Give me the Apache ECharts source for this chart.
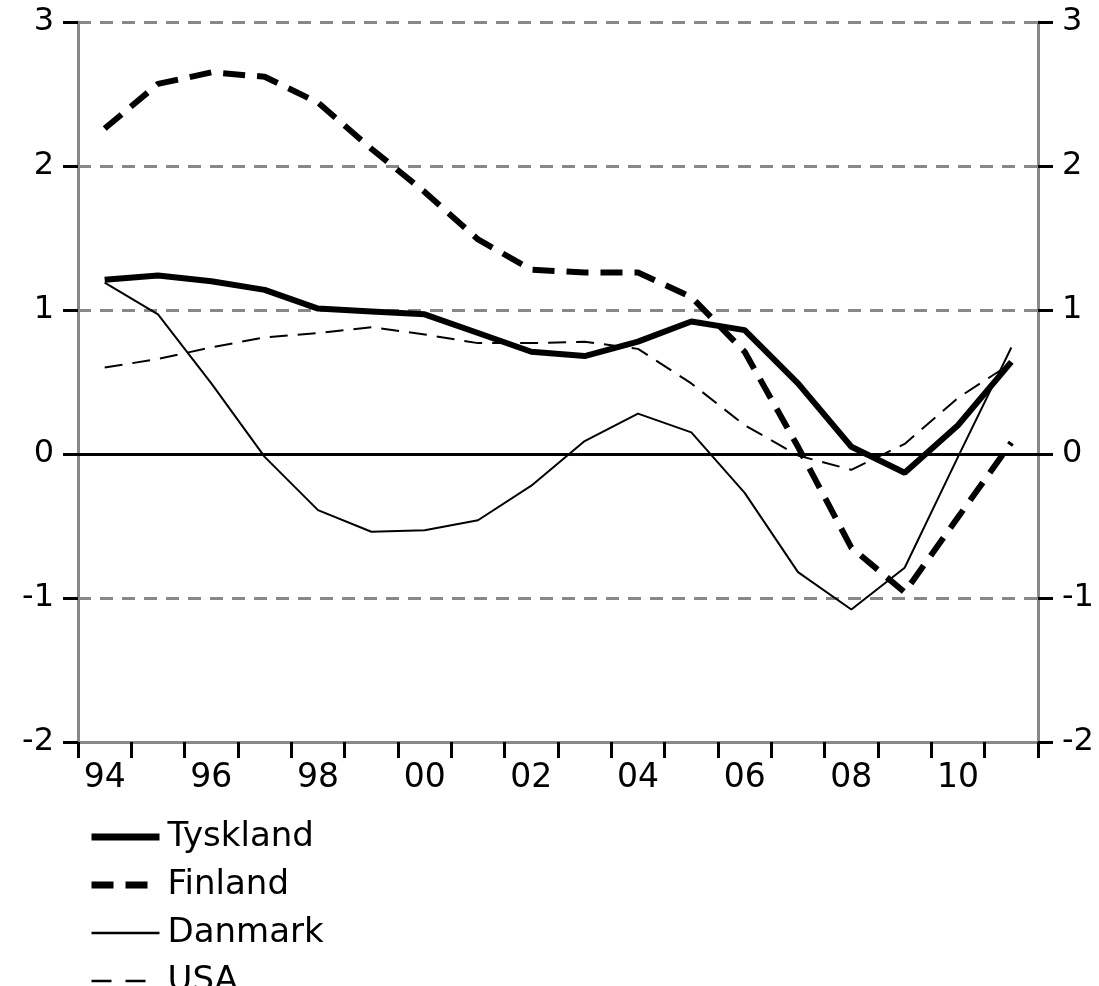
<!DOCTYPE html>
<html>
<head>
<meta charset="utf-8">
<script src="https://cdn.jsdelivr.net/npm/echarts@6/dist/echarts.min.js"></script>
<style>
  html, body { margin: 0; padding: 0; background: #fff; }
  #chart { width: 1099px; height: 986px; }
</style>
</head>
<body>
<div id="chart"></div>
<script>
const years = ["94", "95", "96", "97", "98", "99", "00", "01", "02", "03", "04", "05", "06", "07", "08", "09", "10", "11"];
const tyskland = [1.21, 1.24, 1.2, 1.14, 1.01, 0.99, 0.97, 0.84, 0.71, 0.68, 0.78, 0.92, 0.86, 0.49, 0.05, -0.13, 0.2, 0.64];
const finland = [2.26, 2.57, 2.65, 2.62, 2.44, 2.12, 1.82, 1.49, 1.28, 1.26, 1.26, 1.09, 0.71, 0.05, -0.65, -0.96, -0.44, 0.08];
const danmark = [1.19, 0.97, 0.49, -0.02, -0.39, -0.54, -0.53, -0.46, -0.22, 0.09, 0.28, 0.15, -0.27, -0.82, -1.08, -0.79, -0.02, 0.74];
const usa = [0.6, 0.66, 0.74, 0.81, 0.84, 0.88, 0.83, 0.77, 0.77, 0.78, 0.73, 0.49, 0.2, -0.01, -0.11, 0.07, 0.39, 0.63];

const font = "DejaVu Sans";
const gray = "#888888";

function yAxis(pos) {
  return {
    type: "value",
    position: pos,
    min: -2,
    max: 3,
    interval: 1,
    axisLine: { show: true, lineStyle: { color: gray, width: 3 } },
    axisTick: { show: true, inside: false, length: 15, lineStyle: { color: "#000", width: 3 } },
    axisLabel: { color: "#000", fontSize: 32, fontFamily: font, margin: 24 },
    splitLine: pos === "left"
      ? { show: true, lineStyle: { color: gray, width: 3, type: [13, 9] } }
      : { show: false },
  };
}

const chart = echarts.init(document.getElementById("chart"));
chart.setOption({
  animation: false,
  grid: { left: 78, right: 61, top: 22, bottom: 244 },
  legend: {
    orient: "vertical",
    left: 88,
    top: 820,
    height: 200,
    padding: 0,
    itemWidth: 68,
    itemHeight: 14,
    itemGap: 14,
    itemStyle: { opacity: 0 },
    textStyle: { fontSize: 34, lineHeight: 34, fontFamily: font, color: "#000", padding: [0, 0, 0, 3] },
    data: [
      { name: "Tyskland", lineStyle: { width: 7 } },
      { name: "Finland", lineStyle: { width: 7, type: [22, 12] } },
      { name: "Danmark", lineStyle: { width: 2.5 } },
      { name: "USA", lineStyle: { width: 2.5, type: [20, 14] } },
    ],
  },
  xAxis: {
    type: "category",
    data: years,
    boundaryGap: true,
    axisLine: { show: true, onZero: false, lineStyle: { color: gray, width: 3 } },
    axisTick: { show: true, length: 16, interval: 0, lineStyle: { color: "#000", width: 3 } },
    axisLabel: { interval: 1, color: "#000", fontSize: 33, fontFamily: font, margin: 20 },
    splitLine: { show: false },
  },
  yAxis: [yAxis("left"), yAxis("right")],
  series: [
    {
      name: "Tyskland",
      type: "line",
      data: tyskland,
      symbol: "none",
      lineStyle: { color: "#000", width: 6 },
      itemStyle: { color: "#000" },
      z: 5,
      markLine: {
        silent: true,
        symbol: "none",
        label: { show: false },
        lineStyle: { color: "#000", width: 3, type: "solid" },
        data: [{ yAxis: 0 }],
      },
    },
    {
      name: "Finland",
      type: "line",
      data: finland,
      symbol: "none",
      lineStyle: { color: "#000", width: 6, type: [22, 12] },
      itemStyle: { color: "#000" },
      z: 4,
    },
    {
      name: "Danmark",
      type: "line",
      data: danmark,
      symbol: "none",
      lineStyle: { color: "#000", width: 2 },
      itemStyle: { color: "#000" },
      z: 3,
    },
    {
      name: "USA",
      type: "line",
      data: usa,
      symbol: "none",
      lineStyle: { color: "#000", width: 2, type: [18, 10] },
      itemStyle: { color: "#000" },
      z: 3,
    },
  ],
});
</script>
</body>
</html>
